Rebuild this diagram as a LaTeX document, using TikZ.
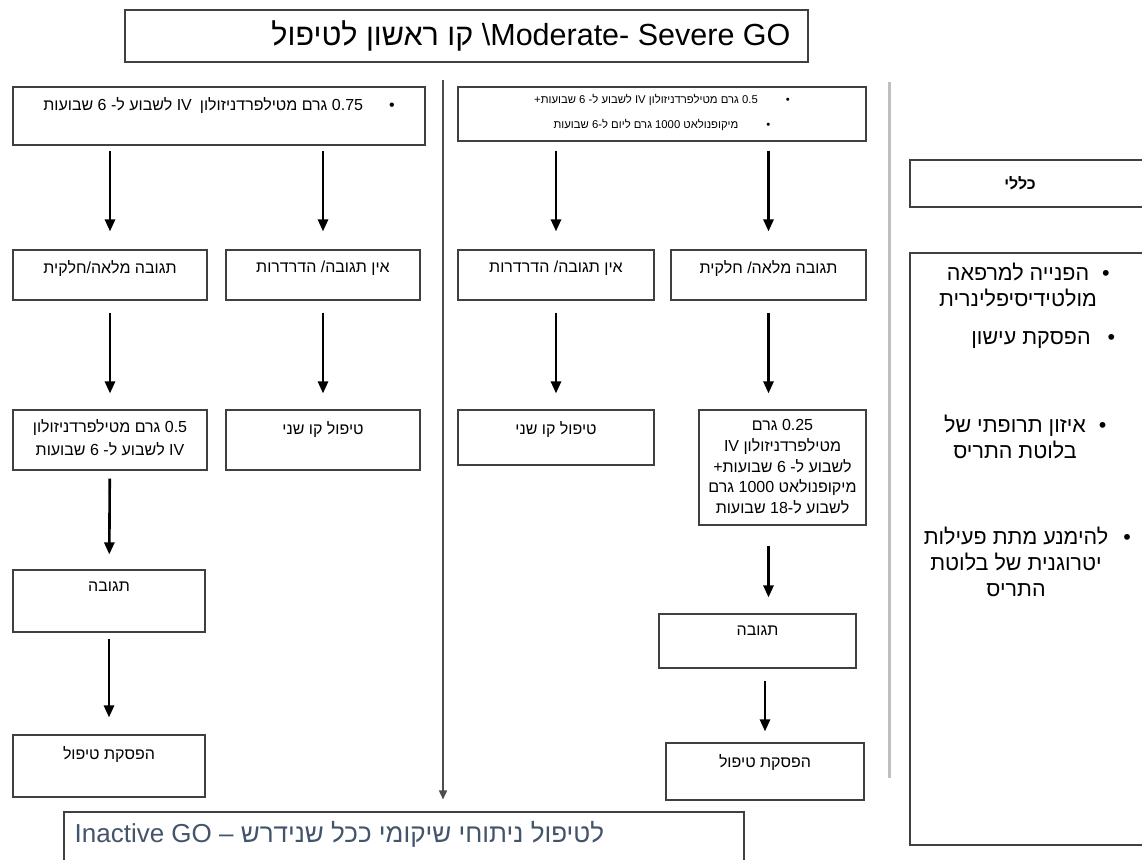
\documentclass[tikz,border=0pt]{standalone}
\usepackage{fontspec}
\usetikzlibrary{arrows.meta, positioning, calc}
\setmainfont{Liberation Sans}
\newfontfamily\hefont[Script=Hebrew]{Liberation Sans}
\TeXXeTstate=1
\definecolor{Line}  {HTML}{404040}
\definecolor{Sep}   {HTML}{BFBFBF}
\definecolor{MidLn} {HTML}{4D4D4D}
\definecolor{Note}  {HTML}{44546A}
\tikzset{
  box/.style args={#1/#2}{
    rectangle, draw=Line, line width=1.1pt,
    minimum width=#1, minimum height=#2, inner sep=0pt,
  },
  txt/.style={
    font=\hefont\fontsize{16}{23}\selectfont, align=center,
    anchor=north, inner sep=0pt, text=black,
  },
  small/.style={
    txt, font=\hefont\fontsize{11.3}{25}\selectfont,
  },
  gen/.style={
    font=\hefont\fontsize{21.5}{26}\selectfont, align=center, inner sep=0pt,
  },
  arr/.style={
    -{Triangle[length=12pt,width=10pt]},
    line width=2.6pt, color=black,
  },
  midarr/.style={
    -{Triangle[length=9pt,width=8pt]},
    line width=1.6pt, color=MidLn,
  },
  sepln/.style={line width=3pt, color=Sep},
}

\begin{document}
\begin{tikzpicture}[x=1pt,y=-1pt]
  \useasboundingbox (0,0) rectangle (1142,859);

  % title
  \node[box=683pt/52pt, label={[txt, anchor=east, xshift=-18pt,
        font=\hefont\fontsize{30.5}{33}\selectfont]east:{\beginR\beginL Moderate- Severe GO\endL\textbackslash{} קו ראשון לטיפול\endR}}]
        (title) at (466.5,36) {};

  % separators
  \coordinate (midtop) at (443,80);
  \coordinate (septop) at (889,82);
  \coordinate (sepbot) at (889,778);
  \draw[sepln] (septop) -- (sepbot);

  % left branch
  \node[box=412pt/58pt, label={[txt, yshift=-11pt]north:{\beginR•\hspace{26pt}0.75 גרם מטילפרדניזולון\hspace{8pt}IV לשבוע ל- 6 שבועות\endR}}]
        (a1) at (219,116) {};
  \node[box=194pt/50pt, label={[txt, yshift=-11pt]north:{\beginR תגובה מלאה/חלקית\endR}}]
        (a2l) at (110,275) {};
  \node[box=194pt/50pt, label={[txt, yshift=-11pt]north:{\beginR אין תגובה/ הדרדרות\endR}}]
        (a2r) at (323,275) {};
  \node[box=194pt/60pt, label={[txt, yshift=-10pt]north:{\beginR 0.5 גרם מטילפרדניזולון\endR\\\beginR IV לשבוע ל- 6 שבועות\endR}}]
        (a3l) at (110,440) {};
  \node[box=194pt/60pt, label={[txt, yshift=-12pt]north:{\beginR טיפול קו שני\endR}}]
        (a3r) at (323,440) {};
  \node[box=192pt/62pt, label={[txt, yshift=-12pt]north:{\beginR תגובה\endR}}]
        (a4l) at (109,601) {};
  \node[box=192pt/62pt, label={[txt, yshift=-12pt]north:{\beginR הפסקת טיפול\endR}}]
        (a5l) at (109,766) {};

  % right branch
  \node[box=408pt/54pt, label={[small, yshift=-8pt]north:{\beginR•\hspace{28pt}0.5 גרם מטילפרדניזולון IV לשבוע ל- 6 שבועות+\endR\\\beginR•\hspace{28pt}מיקופנולאט 1000 גרם ליום ל-6 שבועות\endR}}]
        (b1) at (662,114) {};
  \node[box=196pt/50pt, label={[txt, yshift=-11pt]north:{\beginR אין תגובה/ הדרדרות\endR}}]
        (b2l) at (556,275) {};
  \node[box=195pt/50pt, label={[txt, yshift=-11pt]north:{\beginR תגובה מלאה/ חלקית\endR}}]
        (b2r) at (768.5,275) {};
  \node[box=196pt/55pt, label={[txt, yshift=-12pt]north:{\beginR טיפול קו שני\endR}}]
        (b3l) at (556,437.5) {};
  \node[box=167pt/115pt, label={[txt, yshift=-10pt,
        font=\hefont\fontsize{16}{20.7}\selectfont]north:{\beginR 0.25 גרם\endR\\\beginR מטילפרדניזולון IV\endR\\\beginR לשבוע ל- 6 שבועות+\endR\\\beginR מיקופנולאט 1000 גרם\endR\\\beginR לשבוע ל-18 שבועות\endR}}]
        (b3r) at (782.5,467.5) {};
  \node[box=197pt/54pt, label={[txt, yshift=-12pt]north:{\beginR תגובה\endR}}]
        (b4) at (757.5,641) {};
  \node[box=198pt/57pt, label={[txt, yshift=-12pt]north:{\beginR הפסקת טיפול\endR}}]
        (b5) at (765,771.5) {};

  % general measures
  \node[box=240pt/47pt, label={[txt, yshift=-17pt, xshift=-10pt,
        font=\hefont\bfseries\fontsize{16}{20}\selectfont]north:{\beginR כללי\endR}}]
        (genhd) at (1030,183.5) {};
  \node[box=240pt/592pt] (genbox) at (1030,549) {};
  \node[gen] (gen1) at (1018,285) {\beginR הפנייה למרפאה\endR\rlap{\hspace{13pt}•}\\\beginR מולטידיסיפלינרית\endR};
  \node[gen] (gen2) at (1031,340) {\beginR הפסקת עישון\endR\rlap{\hspace{17pt}•}};
  \node[gen] (gen3) at (1015,437) {\beginR איזון תרופתי של\endR\rlap{\hspace{13pt}•}\\\beginR בלוטת התריס\endR};
  \node[gen] (gen4) at (1016,562) {\beginR להימנע מתת פעילות\endR\rlap{\hspace{15pt}•}\\\beginR יטרוגנית של בלוטת\endR\\\beginR התריס\endR};

  % outcome
  \node[box=680pt/68pt, label={[txt, anchor=north west, xshift=11pt, yshift=-10pt, text=Note,
        font=\hefont\fontsize{26}{29}\selectfont]north west:{Inactive GO – \beginR לטיפול ניתוחי שיקומי ככל שנידרש\endR}}]
        (inact) at (404,846) {};

  % arrows
  \draw[midarr, shorten >=12pt] (midtop) -- (midtop |- inact.north);
  \draw[arr, shorten <=5pt, shorten >=18pt] (a1.south -| a2l.north) -- (a2l.north);
  \draw[arr, shorten <=5pt, shorten >=18pt] (a1.south -| a2r.north) -- (a2r.north);
  \draw[arr, shorten <=12pt, shorten >=16pt] (a2l) -- (a3l);
  \draw[arr, shorten <=12pt, shorten >=16pt] (a2r) -- (a3r);
  \draw[arr, shorten <=8pt, shorten >=15pt] (a3l) -- (a4l);
  \draw[arr, shorten <=6pt, shorten >=17pt] (a4l) -- (a5l);
  \draw[arr, shorten <=9pt, shorten >=18pt] (b1.south -| b2l.north) -- (b2l.north);
  \draw[arr, shorten <=9pt, shorten >=18pt] (b1.south -| b2r.north) -- (b2r.north);
  \draw[arr, shorten <=12pt, shorten >=16pt] (b2l) -- (b3l);
  \draw[arr, shorten <=12pt, shorten >=16pt] (b2r.south) -- (b2r.south |- b3r.north);
  \draw[arr, shorten <=20pt, shorten >=16pt] (b2r.center |- b3r.south) -- (b2r.center |- b4.north);
  \draw[arr, shorten <=12pt, shorten >=11pt] (b4.south -| b5.north) -- (b5.north);
\end{tikzpicture}
\end{document}
